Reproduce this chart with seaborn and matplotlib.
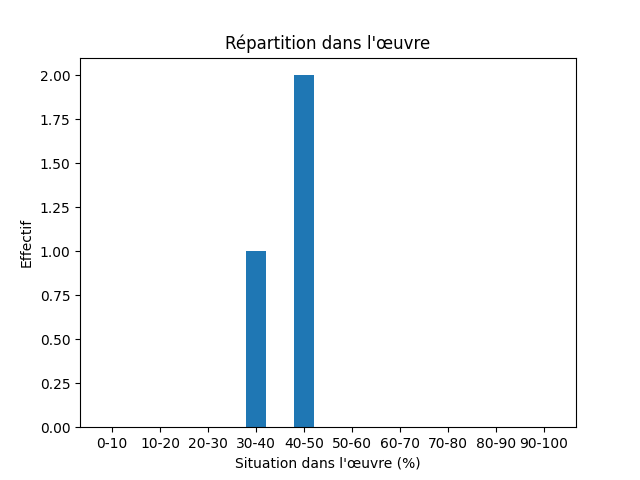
import pandas as pd
import matplotlib
matplotlib.use("Agg")
import matplotlib.pyplot as plt
import seaborn as sns

# Data
tranches = ["0-10", "10-20", "20-30", "30-40", "40-50",
            "50-60", "60-70", "70-80", "80-90", "90-100"]
effectifs = [0, 0, 0, 1, 2, 0, 0, 0, 0, 0]

df = pd.DataFrame({"tranche": tranches, "effectif": effectifs})

fig, ax = plt.subplots(figsize=(6.4, 4.8), dpi=100)
sns.barplot(data=df, x="tranche", y="effectif", order=tranches,
            color="#1f77b4", saturation=1, width=0.4, ax=ax)

ax.set_xlim(-0.67, len(tranches) - 1 + 0.67)
ax.set_ylim(0, max(effectifs) * 1.05)
ax.set_title("Répartition dans l'œuvre")
ax.set_xlabel("Situation dans l'œuvre (%)")
ax.set_ylabel("Effectif")
ax.yaxis.set_major_formatter(matplotlib.ticker.FormatStrFormatter("%.2f"))

plt.savefig("out.png", dpi=100)
